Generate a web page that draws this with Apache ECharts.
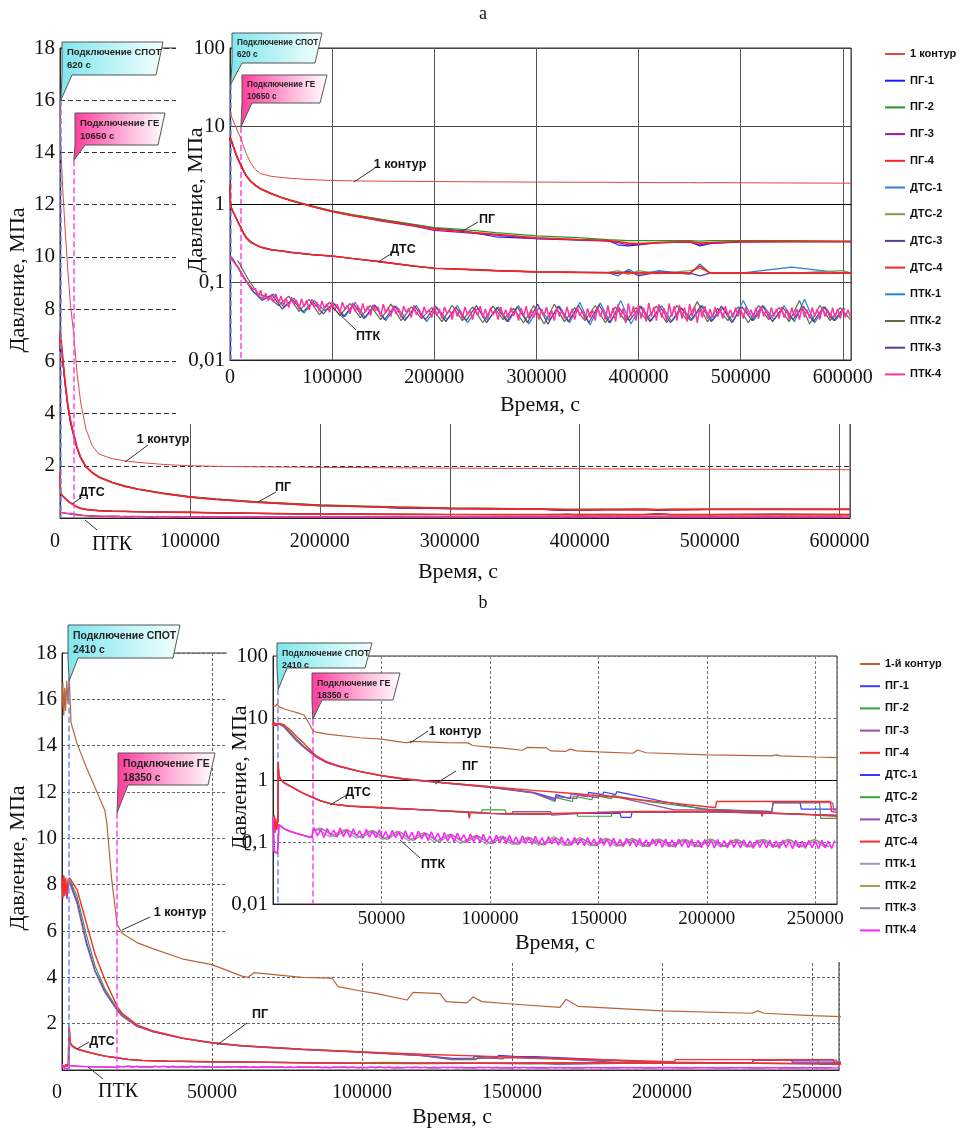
<!DOCTYPE html>
<html>
<head>
<meta charset="utf-8">
<script src="https://cdn.jsdelivr.net/npm/echarts@6/dist/echarts.min.js"></script>
<style>
  html, body { margin: 0; padding: 0; background: #fff; }
  #chart { width: 966px; height: 1133px; }
</style>
</head>
<body>
<div id="chart"></div>
<script>
// ---------- panel a : pressure, MPa vs time, s ----------
const tA = [0, 300, 620, 2000, 4000, 6000, 8000, 10650, 13000, 16000,
  20000, 25000, 30000, 40000, 50000, 60000, 80000, 100000, 120000, 150000,
  180000, 200000, 230000, 260000, 300000, 340000, 370000, 380000, 390000, 400000,
  420000, 450000, 460000, 470000, 500000, 550000, 600000, 608000]

const kontA = [16.0, 15.2, 14.3, 12.7, 11.0, 9.5, 8.2, 7.0, 5.6, 4.4,
  3.4, 2.75, 2.45, 2.27, 2.19, 2.13, 2.05, 2.0, 1.98, 1.96,
  1.95, 1.94, 1.93, 1.92, 1.91, 1.9, 1.9, 1.89, 1.9, 1.89,
  1.88, 1.88, 1.87, 1.88, 1.87, 1.86, 1.85, 1.85]

const pgA1 = [6.4, 7.1, 6.9, 6.1, 5.1, 4.3, 3.7, 3.15, 2.7, 2.3,
  1.97, 1.73, 1.57, 1.37, 1.22, 1.1, 0.94, 0.81, 0.72, 0.62,
  0.54, 0.49, 0.45, 0.38, 0.36, 0.35, 0.34, 0.3, 0.29, 0.3,
  0.32, 0.33, 0.29, 0.31, 0.33, 0.33, 0.33, 0.33]
const pgA2 = [6.5, 7.1, 6.9, 6.1, 5.15, 4.35, 3.75, 3.2, 2.72, 2.32,
  1.98, 1.74, 1.58, 1.38, 1.23, 1.12, 0.95, 0.82, 0.73, 0.63,
  0.55, 0.5, 0.47, 0.43, 0.39, 0.37, 0.35, 0.345, 0.34, 0.34,
  0.34, 0.34, 0.335, 0.34, 0.34, 0.34, 0.335, 0.335]
const pgA3 = [6.4, 7.0, 6.8, 6.0, 5.1, 4.25, 3.65, 3.1, 2.68, 2.28,
  1.95, 1.72, 1.56, 1.36, 1.21, 1.1, 0.93, 0.8, 0.71, 0.6,
  0.52, 0.46, 0.43, 0.4, 0.36, 0.345, 0.335, 0.32, 0.3, 0.305,
  0.32, 0.325, 0.3, 0.315, 0.325, 0.33, 0.33, 0.33]
const pgA4 = [6.5, 7.2, 7.0, 6.2, 5.2, 4.35, 3.75, 3.2, 2.72, 2.3,
  1.97, 1.73, 1.56, 1.36, 1.21, 1.1, 0.93, 0.8, 0.71, 0.61,
  0.53, 0.48, 0.44, 0.41, 0.37, 0.35, 0.34, 0.33, 0.315, 0.31,
  0.32, 0.33, 0.315, 0.32, 0.33, 0.33, 0.33, 0.33]

const dtsA1 = [1.7, 1.15, 0.93, 0.84, 0.74, 0.65, 0.57, 0.49, 0.42, 0.36,
  0.32, 0.3, 0.28, 0.26, 0.25, 0.24, 0.225, 0.215, 0.2, 0.18,
  0.16, 0.15, 0.145, 0.14, 0.135, 0.133, 0.132, 0.12, 0.145, 0.125,
  0.14, 0.125, 0.17, 0.13, 0.13, 0.155, 0.13, 0.13]
const dtsA2 = [1.75, 1.18, 0.94, 0.85, 0.75, 0.66, 0.58, 0.5, 0.43, 0.37,
  0.33, 0.3, 0.28, 0.26, 0.25, 0.24, 0.225, 0.215, 0.2, 0.18,
  0.16, 0.15, 0.145, 0.14, 0.135, 0.133, 0.132, 0.14, 0.125, 0.14,
  0.128, 0.14, 0.15, 0.132, 0.13, 0.13, 0.14, 0.13]
const dtsA3 = [1.72, 1.17, 0.94, 0.85, 0.75, 0.66, 0.58, 0.5, 0.43, 0.37,
  0.33, 0.3, 0.28, 0.26, 0.25, 0.24, 0.225, 0.215, 0.2, 0.18,
  0.16, 0.15, 0.145, 0.14, 0.135, 0.133, 0.132, 0.128, 0.138, 0.12,
  0.135, 0.13, 0.12, 0.13, 0.13, 0.13, 0.13, 0.13]
const dtsA4 = [1.8, 1.2, 0.95, 0.85, 0.75, 0.66, 0.58, 0.5, 0.43, 0.37,
  0.33, 0.3, 0.28, 0.26, 0.25, 0.24, 0.225, 0.215, 0.2, 0.18,
  0.16, 0.15, 0.145, 0.14, 0.135, 0.133, 0.132, 0.132, 0.131, 0.131,
  0.13, 0.13, 0.16, 0.13, 0.13, 0.13, 0.13, 0.13]

// ПТК readings: ПТК-4 every 2500 s, ПТК-1..3 every 10000 s
const ptkA4 = [0.22, 0.19, 0.17, 0.16, 0.14, 0.12, 0.105, 0.095, 0.088, 0.08,
  0.082, 0.066, 0.078, 0.06, 0.072, 0.057, 0.068, 0.055, 0.07, 0.054,
  0.066, 0.05, 0.062, 0.047, 0.064, 0.052, 0.059, 0.045, 0.061, 0.048,
  0.058, 0.044, 0.06, 0.047, 0.055, 0.042, 0.057, 0.046, 0.053, 0.041,
  0.056, 0.043, 0.052, 0.04, 0.055, 0.045, 0.05, 0.039, 0.054, 0.042,
  0.05, 0.038, 0.053, 0.041, 0.049, 0.037, 0.051, 0.043, 0.048, 0.036,
  0.052, 0.04, 0.047, 0.036, 0.05, 0.039, 0.046, 0.035, 0.049, 0.041,
  0.046, 0.035, 0.05, 0.038, 0.045, 0.034, 0.048, 0.04, 0.044, 0.035,
  0.049, 0.037, 0.045, 0.034, 0.048, 0.039, 0.044, 0.033, 0.047, 0.036,
  0.044, 0.034, 0.048, 0.038, 0.043, 0.033, 0.046, 0.037, 0.049, 0.035,
  0.045, 0.034, 0.047, 0.038, 0.043, 0.033, 0.048, 0.036, 0.044, 0.034,
  0.047, 0.037, 0.043, 0.032, 0.046, 0.036, 0.049, 0.034, 0.044, 0.035,
  0.046, 0.033, 0.045, 0.037, 0.048, 0.034, 0.043, 0.032, 0.047, 0.036,
  0.044, 0.034, 0.048, 0.035, 0.045, 0.033, 0.047, 0.037, 0.043, 0.033,
  0.046, 0.035, 0.044, 0.032, 0.048, 0.036, 0.045, 0.033, 0.05, 0.034,
  0.047, 0.031, 0.052, 0.035, 0.046, 0.03, 0.053, 0.036, 0.049, 0.032,
  0.051, 0.034, 0.047, 0.031, 0.054, 0.036, 0.048, 0.032, 0.052, 0.035,
  0.046, 0.031, 0.053, 0.036, 0.049, 0.032, 0.051, 0.034, 0.047, 0.031,
  0.052, 0.036, 0.048, 0.03, 0.046, 0.035, 0.049, 0.034, 0.045, 0.035,
  0.048, 0.036, 0.045, 0.034, 0.049, 0.037, 0.044, 0.035, 0.047, 0.036,
  0.045, 0.034, 0.048, 0.037, 0.044, 0.035, 0.047, 0.034, 0.049, 0.036,
  0.044, 0.033, 0.047, 0.036, 0.045, 0.034, 0.048, 0.035, 0.044, 0.033,
  0.047, 0.036, 0.045, 0.033, 0.048, 0.035, 0.044, 0.034, 0.047, 0.036,
  0.045, 0.033, 0.048, 0.036, 0.044, 0.034, 0.047, 0.035, 0.045, 0.034,
  0.046, 0.035, 0.044, 0.036]
const ptkA1 = [0.2, 0.12, 0.075, 0.06, 0.07, 0.048, 0.062, 0.04, 0.058, 0.043,
  0.052, 0.036, 0.055, 0.035, 0.05, 0.032, 0.049, 0.034, 0.05, 0.031,
  0.047, 0.033, 0.05, 0.03, 0.046, 0.032, 0.048, 0.031, 0.05, 0.029,
  0.047, 0.032, 0.049, 0.03, 0.055, 0.028, 0.054, 0.03, 0.058, 0.029,
  0.049, 0.032, 0.05, 0.031, 0.046, 0.033, 0.05, 0.032, 0.047, 0.031,
  0.058, 0.032, 0.049, 0.033, 0.05, 0.031, 0.06, 0.03, 0.048, 0.032, 0.046]
const ptkA2 = [0.19, 0.11, 0.07, 0.064, 0.05, 0.066, 0.042, 0.06, 0.038, 0.055,
  0.037, 0.053, 0.035, 0.05, 0.033, 0.052, 0.032, 0.048, 0.034, 0.047,
  0.031, 0.05, 0.032, 0.048, 0.03, 0.049, 0.033, 0.046, 0.03, 0.05,
  0.029, 0.052, 0.031, 0.047, 0.032, 0.05, 0.03, 0.048, 0.031, 0.047,
  0.033, 0.049, 0.03, 0.05, 0.032, 0.056, 0.031, 0.046, 0.032, 0.048,
  0.03, 0.05, 0.033, 0.047, 0.031, 0.058, 0.029, 0.05, 0.032, 0.047, 0.033]
const ptkA3 = [0.21, 0.13, 0.08, 0.058, 0.068, 0.045, 0.06, 0.041, 0.056, 0.039,
  0.054, 0.036, 0.052, 0.034, 0.051, 0.033, 0.049, 0.032, 0.048, 0.033,
  0.049, 0.031, 0.047, 0.032, 0.05, 0.03, 0.047, 0.031, 0.048, 0.03,
  0.052, 0.029, 0.049, 0.031, 0.05, 0.03, 0.051, 0.03, 0.046, 0.032,
  0.049, 0.031, 0.048, 0.03, 0.047, 0.032, 0.05, 0.031, 0.049, 0.03,
  0.048, 0.032, 0.05, 0.031, 0.047, 0.033, 0.049, 0.031, 0.048, 0.032, 0.047]

// ---------- panel b ----------
const kontB = [[0, 15.6], [300, 16.7], [600, 15.3], [900, 16.5], [1200, 15.5], [1600, 16.8], [2000, 15.8], [2410, 17.0],
  [3000, 15.0], [5000, 14.1], [8000, 13.1], [11000, 12.2], [14300, 11.2], [15000, 10.6], [16500, 8.3], [18350, 6.3],
  [20000, 5.9], [25000, 5.5], [30000, 5.25], [40000, 4.8], [50000, 4.55], [60000, 4.05], [62000, 4.0], [64000, 4.2],
  [80000, 4.0], [90000, 3.97], [92000, 3.6], [100000, 3.4], [105000, 3.3], [115000, 3.02], [117000, 3.35], [126000, 3.3],
  [128000, 2.95], [135000, 2.9], [137000, 3.15], [140000, 2.95], [150000, 2.85], [166000, 2.7], [168000, 3.05], [172000, 2.75],
  [200000, 2.55], [230000, 2.45], [232000, 2.55], [234000, 2.45], [250000, 2.35], [260000, 2.3]]

const pgB1 = [[0, 8.1], [300, 7.5], [600, 8.2], [900, 7.6], [1200, 8.1], [1600, 7.4], [2000, 8.0], [2410, 8.2], [3000, 8.0],
  [5000, 7.3], [8000, 5.6], [11000, 4.3], [14300, 3.4], [18350, 2.6], [20000, 2.35], [25000, 1.9], [30000, 1.67], [40000, 1.37],
  [50000, 1.17], [60000, 1.04], [80000, 0.89], [100000, 0.77], [120000, 0.63], [130000, 0.5], [130500, 0.58], [137000, 0.5],
  [137500, 0.6], [145000, 0.54], [145500, 0.63], [152000, 0.58], [152500, 0.64], [158000, 0.58], [158500, 0.65], [180000, 0.45],
  [200000, 0.33], [230000, 0.31], [230500, 0.43], [243000, 0.43], [243500, 0.34], [260000, 0.34]]
const pgB2 = [[0, 8.2], [300, 7.6], [600, 8.3], [900, 7.7], [1200, 8.2], [1600, 7.5], [2000, 8.1], [2410, 8.2], [3000, 8.1],
  [5000, 7.5], [8000, 5.9], [11000, 4.5], [14300, 3.5], [18350, 2.65], [20000, 2.4], [25000, 1.93], [30000, 1.69], [40000, 1.38],
  [50000, 1.18], [60000, 1.05], [80000, 0.9], [100000, 0.78], [120000, 0.62], [130000, 0.45], [130500, 0.52], [138000, 0.45],
  [138500, 0.55], [147000, 0.48], [147500, 0.57], [156000, 0.5], [156500, 0.56], [175000, 0.44], [200000, 0.34], [230000, 0.31],
  [230500, 0.43], [252000, 0.43], [252500, 0.24], [260000, 0.24]]
const pgB3 = [[0, 8.0], [300, 7.5], [600, 8.1], [900, 7.5], [1200, 8.0], [1600, 7.4], [2000, 7.9], [2410, 8.1], [3000, 7.9],
  [5000, 7.2], [8000, 5.5], [11000, 4.25], [14300, 3.35], [18350, 2.58], [20000, 2.33], [25000, 1.88], [30000, 1.66], [40000, 1.36],
  [50000, 1.16], [60000, 1.03], [80000, 0.88], [100000, 0.76], [120000, 0.62], [130000, 0.47], [130500, 0.54], [140000, 0.5],
  [140500, 0.57], [150000, 0.52], [150500, 0.58], [160000, 0.52], [185000, 0.33], [185500, 0.35], [200000, 0.33], [230000, 0.31],
  [230500, 0.43], [258000, 0.43], [258500, 0.33], [260000, 0.33]]
const pgB4 = [[0, 8.3], [300, 7.4], [600, 8.4], [900, 7.6], [1200, 8.3], [1600, 7.5], [2000, 8.2], [2410, 8.3], [3000, 8.2],
  [5000, 7.8], [8000, 6.4], [11000, 5.0], [14300, 3.9], [18350, 2.75], [20000, 2.45], [25000, 1.95], [30000, 1.7], [40000, 1.38],
  [50000, 1.18], [60000, 1.05], [80000, 0.9], [100000, 0.78], [120000, 0.68], [140000, 0.6], [160000, 0.52], [180000, 0.44],
  [200000, 0.37], [204000, 0.36], [204500, 0.45], [257000, 0.45], [257500, 0.31], [260000, 0.3]]

const dtsB1 = [[0, 0.2], [300, 0.16], [600, 0.25], [900, 0.14], [1200, 0.22], [1600, 0.17], [2000, 0.21], [2300, 0.23], [2410, 1.9],
  [2700, 1.15], [3400, 1.03], [5000, 0.9], [8000, 0.79], [11000, 0.69], [14300, 0.6], [18350, 0.52], [22000, 0.46], [27000, 0.41],
  [35000, 0.38], [50000, 0.355], [70000, 0.33], [90000, 0.3], [100000, 0.29], [120000, 0.28], [140000, 0.29], [160000, 0.29],
  [160500, 0.25], [165000, 0.25], [165500, 0.3], [200000, 0.31], [230000, 0.29], [260000, 0.27]]
const dtsB2 = [[0, 0.21], [300, 0.15], [600, 0.26], [900, 0.15], [1200, 0.23], [1600, 0.16], [2000, 0.2], [2300, 0.22], [2410, 1.85],
  [2700, 1.15], [3400, 1.03], [5000, 0.9], [8000, 0.79], [11000, 0.69], [14300, 0.6], [18350, 0.52], [22000, 0.46], [27000, 0.41],
  [35000, 0.38], [50000, 0.355], [70000, 0.33], [96000, 0.3], [96500, 0.33], [107000, 0.33], [107500, 0.29], [140000, 0.29],
  [140500, 0.26], [156000, 0.26], [156500, 0.3], [200000, 0.31], [230000, 0.29], [260000, 0.27]]
const dtsB3 = [[0, 0.2], [300, 0.15], [600, 0.25], [900, 0.15], [1200, 0.22], [1600, 0.16], [2000, 0.2], [2300, 0.22], [2410, 1.85],
  [2700, 1.15], [3400, 1.03], [5000, 0.9], [8000, 0.79], [11000, 0.69], [14300, 0.6], [18350, 0.52], [22000, 0.46], [27000, 0.41],
  [35000, 0.38], [50000, 0.355], [70000, 0.33], [100000, 0.29], [110000, 0.28], [110500, 0.31], [128000, 0.31], [128500, 0.27],
  [150000, 0.3], [200000, 0.31], [230000, 0.29], [260000, 0.27]]
const dtsB4 = [[0, 0.22], [300, 0.14], [600, 0.27], [900, 0.15], [1200, 0.24], [1600, 0.16], [2000, 0.2], [2300, 0.22], [2410, 1.95],
  [2700, 1.2], [3400, 1.05], [5000, 0.92], [8000, 0.8], [11000, 0.7], [14300, 0.6], [18350, 0.53], [22000, 0.46], [27000, 0.41],
  [35000, 0.38], [50000, 0.36], [70000, 0.33], [90000, 0.3], [90500, 0.24], [91000, 0.3], [100000, 0.29], [120000, 0.28],
  [150000, 0.3], [170000, 0.31], [200000, 0.31], [225000, 0.3], [225500, 0.26], [226000, 0.3], [260000, 0.26]]

// ПТК before the ГЕ connection, then noisy readings every 1500 s (ПТК-4) / 6000 s (ПТК-1..3)
const ptkEarlyB = [[0, 0.25], [300, 0.12], [600, 0.07], [1000, 0.068], [1500, 0.07], [2000, 0.066], [2300, 0.07], [2410, 0.1],
  [2700, 0.19], [3000, 0.18], [5000, 0.165], [8000, 0.148], [11000, 0.137], [14300, 0.127], [16500, 0.121], [18000, 0.12], [18350, 0.15]]
const ptkB4 = [0.17, 0.125, 0.16, 0.118, 0.165, 0.128, 0.155, 0.12, 0.168, 0.122,
  0.158, 0.118, 0.163, 0.125, 0.152, 0.115, 0.16, 0.12, 0.15, 0.117,
  0.157, 0.115, 0.148, 0.112, 0.155, 0.118, 0.146, 0.11, 0.152, 0.113,
  0.143, 0.108, 0.15, 0.112, 0.14, 0.105, 0.146, 0.11, 0.138, 0.104,
  0.142, 0.103, 0.134, 0.1, 0.14, 0.106, 0.131, 0.098, 0.136, 0.101,
  0.128, 0.097, 0.133, 0.1, 0.125, 0.095, 0.13, 0.098, 0.123, 0.094,
  0.128, 0.096, 0.12, 0.092, 0.126, 0.095, 0.118, 0.091, 0.124, 0.093,
  0.117, 0.09, 0.122, 0.093, 0.115, 0.089, 0.12, 0.091, 0.114, 0.088,
  0.119, 0.09, 0.113, 0.087, 0.118, 0.09, 0.112, 0.086, 0.117, 0.089,
  0.111, 0.085, 0.116, 0.088, 0.11, 0.084, 0.115, 0.087, 0.109, 0.084,
  0.114, 0.086, 0.108, 0.083, 0.113, 0.087, 0.108, 0.082, 0.112, 0.085,
  0.107, 0.082, 0.112, 0.085, 0.106, 0.081, 0.111, 0.084, 0.106, 0.081,
  0.11, 0.083, 0.105, 0.08, 0.11, 0.084, 0.105, 0.08, 0.109, 0.082,
  0.104, 0.08, 0.109, 0.083, 0.104, 0.079, 0.108, 0.082, 0.104, 0.08,
  0.108, 0.082, 0.103, 0.079, 0.108, 0.082, 0.103, 0.078, 0.107, 0.081,
  0.103, 0.079, 0.107, 0.081, 0.102, 0.078, 0.107, 0.081, 0.103, 0.079,
  0.106]
const ptkB1 = [0.16, 0.12, 0.155, 0.115, 0.15, 0.11, 0.145, 0.105, 0.138, 0.1,
  0.13, 0.095, 0.125, 0.092, 0.12, 0.09, 0.117, 0.088, 0.115, 0.087,
  0.113, 0.086, 0.112, 0.085, 0.111, 0.084, 0.11, 0.084, 0.109, 0.083,
  0.11, 0.083, 0.108, 0.082, 0.109, 0.082, 0.108, 0.082, 0.107, 0.082]
const ptkB2 = [0.17, 0.13, 0.16, 0.12, 0.155, 0.112, 0.15, 0.108, 0.142, 0.104,
  0.135, 0.1, 0.128, 0.096, 0.125, 0.093, 0.12, 0.09, 0.122, 0.089,
  0.118, 0.087, 0.116, 0.086, 0.115, 0.085, 0.113, 0.085, 0.112, 0.084,
  0.113, 0.084, 0.112, 0.083, 0.111, 0.083, 0.112, 0.083, 0.111, 0.083]
const ptkB3 = [0.165, 0.122, 0.158, 0.117, 0.152, 0.11, 0.146, 0.106, 0.14, 0.101,
  0.132, 0.097, 0.126, 0.094, 0.121, 0.091, 0.118, 0.089, 0.116, 0.088,
  0.114, 0.087, 0.113, 0.086, 0.112, 0.085, 0.111, 0.085, 0.11, 0.084,
  0.111, 0.084, 0.109, 0.083, 0.11, 0.083, 0.109, 0.083, 0.108, 0.083]

const namesA = ['1 контур', 'ПГ-1', 'ПГ-2', 'ПГ-3', 'ПГ-4', 'ДТС-1', 'ДТС-2', 'ДТС-3', 'ДТС-4', 'ПТК-1', 'ПТК-2', 'ПТК-3', 'ПТК-4']
const namesB = ['1-й контур', 'ПГ-1 ', 'ПГ-2 ', 'ПГ-3 ', 'ПГ-4 ', 'ДТС-1 ', 'ДТС-2 ', 'ДТС-3 ', 'ДТС-4 ', 'ПТК-1 ', 'ПТК-2 ', 'ПТК-3 ', 'ПТК-4 ']
const colorsA = ['#e04848', '#1a1aff', '#229a22', '#9a1a9a', '#ff2020', '#2a7fd0', '#7a9a5a', '#5a3a9a', '#ff2020', '#1e88d8', '#5a7040', '#5a3a8a', '#ff33a0']
const colorsB = ['#b8643a', '#3b3bff', '#3aa03a', '#9a4aa8', '#ff2a2a', '#3b3bff', '#3aa03a', '#9a4aa8', '#ff2a2a', '#9a9ac0', '#a0a050', '#8a8aa0', '#ff22ff']

const zip = (t, v) => t.map((x, i) => [x, v[i]])
const seq = (v, t0, dt) => v.map((y, i) => [t0 + i * dt, y])

const dataA = [zip(tA, kontA), zip(tA, pgA1), zip(tA, pgA2), zip(tA, pgA3), zip(tA, pgA4),
  zip(tA, dtsA1), zip(tA, dtsA2), zip(tA, dtsA3), zip(tA, dtsA4),
  seq(ptkA1, 2500, 10000), seq(ptkA2, 7500, 10000), seq(ptkA3, 1250, 10000), seq(ptkA4, 0, 2500)]
const dataB = [kontB, pgB1, pgB2, pgB3, pgB4, dtsB1, dtsB2, dtsB3, dtsB4,
  ptkEarlyB.concat(seq(ptkB1, 20500, 6000)), ptkEarlyB.concat(seq(ptkB2, 21500, 6000)),
  ptkEarlyB.concat(seq(ptkB3, 22500, 6000)), ptkEarlyB.concat(seq(ptkB4, 19000, 1500))]

const serif = '"Liberation Serif", "Times New Roman", serif'
const sans = '"Liberation Sans", Arial, sans-serif'

const grids = [
  { left: 60, top: 48, width: 790, height: 470 },
  { left: 230, top: 48, width: 621, height: 312 },
  { left: 62, top: 653, width: 777, height: 417 },
  { left: 273, top: 656, width: 564, height: 248 }
]

const logFmt = v => String(+v.toPrecision(2)).replace('.', ',')

function xAx (gi, max, step, margin, split, extra) {
  return Object.assign({
    gridIndex: gi, type: 'value', min: 0, max: max, interval: step, z: gi % 2 ? 4 : 0,
    axisLine: { lineStyle: { color: '#222', width: 1 } },
    axisTick: { show: false },
    axisLabel: { margin: margin, color: '#111', fontFamily: serif, fontSize: 20, formatter: v => (v % step === 0 ? String(v) : '') },
    splitLine: { lineStyle: split }
  }, extra || {})
}
function yAx (gi, log, split, extra) {
  const ax = {
    gridIndex: gi, z: gi % 2 ? 4 : 0,
    axisLine: { lineStyle: { color: '#222', width: 1 } },
    axisTick: { show: false },
    axisLabel: { margin: 5, color: '#111', fontFamily: serif, fontSize: 21 },
    splitLine: { lineStyle: split }
  }
  if (log) {
    Object.assign(ax, { type: 'log', logBase: 10, min: 0.01, max: 100 })
    ax.axisLabel.formatter = logFmt
  } else {
    Object.assign(ax, { type: 'value', min: 0, max: 18, interval: 2, axisLabel: Object.assign(ax.axisLabel, { showMinLabel: false }) })
  }
  return Object.assign(ax, extra || {})
}

function eventLines (spot, ge, low, extra) {
  const blue = { color: '#6f8cff', type: [6, 3], width: 1.5 }
  const pink = { color: '#ff44ee', type: [6, 3], width: 1.5 }
  const data = [
    [{ coord: [spot[0], spot[1]], lineStyle: blue }, { coord: [spot[0], low] }],
    [{ coord: [ge[0], ge[1]], lineStyle: pink }, { coord: [ge[0], low] }]
  ].concat(extra || [])
  return { silent: true, symbol: 'none', label: { show: false }, animation: false, data: data }
}

const series = []
function addPanel (names, colors, data, gMain, gInset, wMain, wInset) {
  ;[gMain, gInset].forEach(g => {
    const widths = g === gMain ? wMain : wInset
    names.forEach((n, i) => {
      series.push({
        name: n, type: 'line', xAxisIndex: g, yAxisIndex: g, data: data[i],
        symbol: 'none', showSymbol: false, silent: true, z: g % 2 ? 5 : 2,
        lineStyle: { color: colors[i], width: widths[i] }, itemStyle: { color: colors[i] }
      })
    })
  })
}
addPanel(namesA, colorsA, dataA, 0, 1,
  [1, 1.2, 1.2, 1.2, 1.6, 1.2, 1.2, 1.2, 1.6, 1, 1, 1, 1.4],
  [1, 1.2, 1.2, 1.2, 1.6, 1.2, 1.2, 1.2, 1.6, 1.2, 1.2, 1.2, 1.5])
addPanel(namesB, colorsB, dataB, 2, 3,
  [1.2, 1.2, 1.2, 1.2, 1.4, 1.2, 1.2, 1.2, 1.4, 1, 1, 1, 1.4],
  [1.2, 1.2, 1.2, 1.2, 1.4, 1.2, 1.2, 1.2, 1.4, 1.2, 1.2, 1.2, 1.5])

// event markers: СПОТ / ГЕ connection times
const unitLine = [{ yAxis: 1, lineStyle: { color: '#000', type: 'solid', width: 1 } }]
series[0].markLine = eventLines([620, 16], [10650, 13.7], 0)
series[13].markLine = eventLines([620, 34], [10650, 9.7], 0.01, unitLine)
series[26].markLine = eventLines([2410, 16.8], [18350, 11.1], 0)
series[39].markLine = eventLines([2410, 29], [18350, 9.5], 0.01, unitLine)

const legendText = { fontFamily: sans, fontWeight: 'bold', fontSize: 11, lineHeight: 14, color: '#111' }

const option = {
  animation: false,
  backgroundColor: '#fff',
  grid: grids.map((g, i) => Object.assign({
    show: true, borderColor: '#333', borderWidth: 1, backgroundColor: 'transparent',
    containLabel: false, outerBoundsMode: 'none', z: i % 2 ? 4 : 0
  }, g)),
  xAxis: [
    xAx(0, 608000, 100000, 14, { color: '#555', width: 1 }, { axisLabel: { margin: 14, color: '#111', fontFamily: serif, fontSize: 20, alignMinLabel: 'right', formatter: v => (v % 100000 === 0 ? String(v) : '') } }),
    xAx(1, 608000, 100000, 8, { color: '#555', width: 1 }),
    xAx(2, 259000, 50000, 13, { color: '#666', width: 1, type: [3, 2] }, { axisLabel: { margin: 13, color: '#111', fontFamily: serif, fontSize: 20, alignMinLabel: 'right', formatter: v => (v % 50000 === 0 ? String(v) : '') } }),
    xAx(3, 260000, 50000, 6, { color: '#777', width: 1, type: [3, 2] }, { axisLabel: { margin: 6, color: '#111', fontFamily: serif, fontSize: 19, formatter: v => (v > 0 && v % 50000 === 0 ? String(v) : '') } })
  ],
  yAxis: [
    yAx(0, false, { color: '#333', width: 1, type: [5, 3] }),
    yAx(1, true, { color: '#444', width: 1 }),
    yAx(2, false, { color: '#666', width: 1, type: [3, 2] }),
    yAx(3, true, { color: '#777', width: 1, type: [3, 2] })
  ],
  legend: [
    { data: namesA, orient: 'vertical', left: 885, top: 47, padding: 0, icon: 'rect', itemWidth: 20, itemHeight: 2, itemGap: 12.7, selectedMode: false, textStyle: legendText },
    { data: namesB, orient: 'vertical', left: 860, top: 657, padding: 0, icon: 'rect', itemWidth: 20, itemHeight: 2, itemGap: 8.2, selectedMode: false, textStyle: legendText }
  ],
  series: series
}

const chart = echarts.init(document.getElementById('chart'), null, { renderer: 'canvas' })
chart.setOption(option)

// ---------- annotations ----------
const px = (g, t, p) => chart.convertToPixel({ gridIndex: g }, [t, p])
const cyan = () => new echarts.graphic.LinearGradient(0, 0, 1, 0, [{ offset: 0, color: '#7fe6ec' }, { offset: 1, color: '#f4ffff' }])
const pink = () => new echarts.graphic.LinearGradient(0, 0, 1, 0, [{ offset: 0, color: '#ff3c9c' }, { offset: 0.6, color: '#ffb8dc' }, { offset: 1, color: '#ffffff' }])

const callouts = [
  { g: 0, tip: [620, 16], box: [62, 42, 163, 75], fill: cyan, text: 'Подключение СПОТ\n620 с', fs: 9.5 },
  { g: 0, tip: [10650, 13.7], box: [75, 113, 165, 145], fill: pink, text: 'Подключение ГЕ\n10650 с', fs: 9.5 },
  { g: 1, tip: [620, 34], box: [232, 33, 322, 63], fill: cyan, text: 'Подключение СПОТ\n620 с', fs: 8.2 },
  { g: 1, tip: [10650, 9.7], box: [242, 75, 327, 103], fill: pink, text: 'Подключение ГЕ\n10650 с', fs: 8.2 },
  { g: 2, tip: [2410, 16.8], box: [68, 625, 180, 658], fill: cyan, text: 'Подключение СПОТ\n2410 с', fs: 10.4 },
  { g: 2, tip: [18350, 11.1], box: [118, 753, 215, 785], fill: pink, text: 'Подключение ГЕ\n18350 с', fs: 10.4 },
  { g: 3, tip: [2410, 29], box: [277, 643, 372, 668], fill: cyan, text: 'Подключение СПОТ\n2410 с', fs: 8.8 },
  { g: 3, tip: [18350, 9.5], box: [312, 673, 400, 700], fill: pink, text: 'Подключение ГЕ\n18350 с', fs: 8.8 }
]

const curveLabels = [
  { text: '1 контур', at: [163, 440], from: [125, 462], to: [148, 445] },
  { text: 'ПГ', at: [283, 488], from: [258, 502], to: [276, 492] },
  { text: 'ДТС', at: [92, 493], from: [72, 504], to: [82, 497] },
  { text: 'ПТК', at: [112, 545], from: [85, 520], to: [97, 530], serif: true },
  { text: '1 контур', at: [400, 165], from: [354, 182], to: [375, 168] },
  { text: 'ПГ', at: [487, 220], from: [461, 232], to: [478, 222] },
  { text: 'ДТС', at: [403, 250], from: [378, 262], to: [394, 252] },
  { text: 'ПТК', at: [368, 337], from: [333, 308], to: [356, 330] },
  { text: '1 контур', at: [180, 913], from: [122, 930], to: [150, 917] },
  { text: 'ПГ', at: [260, 1015], from: [217, 1045], to: [247, 1023] },
  { text: 'ДТС', at: [102, 1042], from: [77, 1049], to: [89, 1042] },
  { text: 'ПТК', at: [118, 1092], from: [88, 1067], to: [103, 1079], serif: true },
  { text: '1 контур', at: [455, 732], from: [410, 743], to: [428, 731] },
  { text: 'ПГ', at: [470, 767], from: [435, 784], to: [456, 771] },
  { text: 'ДТС', at: [358, 793], from: [330, 805], to: [345, 796] },
  { text: 'ПТК', at: [433, 865], from: [400, 840], to: [420, 858] }
]

const titles = [
  { text: 'a', at: [483, 14], size: 18 },
  { text: 'b', at: [483, 603], size: 18 },
  { text: 'Давление, МПа', at: [18, 280], size: 22, rot: true },
  { text: 'Время, с', at: [458, 572], size: 22 },
  { text: 'Давление, МПа', at: [196, 200], size: 22, rot: true },
  { text: 'Время, с', at: [540, 405], size: 22 },
  { text: 'Давление, МПа', at: [18, 858], size: 22, rot: true },
  { text: 'Время, с', at: [452, 1117], size: 22 },
  { text: 'Давление, МПа', at: [240, 778], size: 22, rot: true },
  { text: 'Время, с', at: [555, 943], size: 22 }
]

const graphic = [
  { type: 'rect', shape: { x: 176, y: 27, width: 686, height: 397 }, style: { fill: '#fff' }, z: 3, silent: true },
  { type: 'rect', shape: { x: 227, y: 628, width: 625, height: 334 }, style: { fill: '#fff' }, z: 3, silent: true }
]

callouts.forEach(c => {
  const tip = px(c.g, c.tip[0], c.tip[1])
  const [x0, y0, x1, y1] = c.box
  graphic.push({
    type: 'polygon', z: 10, silent: true,
    shape: { points: [[x0, y0], [x1, y0], [x1 - 7, y1], [x0 + 10, y1], tip, [x0, y1]] },
    style: { fill: c.fill(), stroke: '#555', lineWidth: 1 }
  })
  graphic.push({
    type: 'text', z: 11, silent: true, x: x0 + 5, y: y0 + 4,
    style: { text: c.text, fill: '#222', font: 'bold ' + c.fs + 'px ' + sans, lineHeight: c.fs + 3.5 }
  })
})

curveLabels.forEach(l => {
  graphic.push({ type: 'line', z: 10, silent: true, shape: { x1: l.from[0], y1: l.from[1], x2: l.to[0], y2: l.to[1] }, style: { stroke: '#333', lineWidth: 1 } })
  graphic.push({
    type: 'text', z: 11, silent: true, x: l.at[0], y: l.at[1],
    style: { text: l.text, fill: '#111', font: l.serif ? '20px ' + serif : 'bold 12.5px ' + sans, textAlign: 'center', textVerticalAlign: 'middle' }
  })
})

titles.forEach(t => {
  graphic.push({
    type: 'text', z: 11, silent: true, x: t.at[0], y: t.at[1], rotation: t.rot ? Math.PI / 2 : 0,
    style: { text: t.text, fill: '#111', font: t.size + 'px ' + serif, textAlign: 'center', textVerticalAlign: 'middle' }
  })
})

chart.setOption({ graphic: graphic })
</script>
</body>
</html>
